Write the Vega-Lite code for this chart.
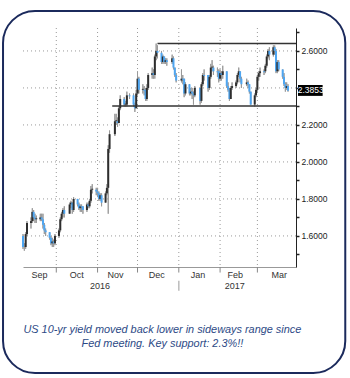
{
  "$schema": "https://vega.github.io/schema/vega-lite/v6.json",
  "width": 273,
  "height": 239,
  "padding": {"left": 2, "top": 9, "right": 2, "bottom": 2},
  "background": "white",
  "config": {
    "view": {"stroke": null},
    "font": "Liberation Sans",
    "axisX": {"labelFont": "Liberation Sans Narrow, Liberation Sans", "labelFontSize": 9, "labelColor": "#333", "ticks": false, "grid": false, "domainColor": "#999", "labelPadding": 3},
    "axisY": {"labelFont": "Liberation Sans Narrow, Liberation Sans", "labelFontSize": 8.5, "labelColor": "#222", "domainColor": "#222", "tickColor": "#222", "tickSize": 3, "tickWidth": 1.5, "labelPadding": 2, "grid": false, "labelOverlap": false}
  },
  "datasets": {
    "ohlc": [
      {"d":"2016-09-06","o":1.60,"h":1.61,"l":1.53,"c":1.54},
      {"d":"2016-09-07","o":1.54,"h":1.56,"l":1.52,"c":1.54},
      {"d":"2016-09-08","o":1.54,"h":1.62,"l":1.53,"c":1.61},
      {"d":"2016-09-09","o":1.61,"h":1.68,"l":1.60,"c":1.67},
      {"d":"2016-09-12","o":1.67,"h":1.70,"l":1.64,"c":1.68},
      {"d":"2016-09-13","o":1.68,"h":1.75,"l":1.67,"c":1.73},
      {"d":"2016-09-14","o":1.73,"h":1.74,"l":1.68,"c":1.70},
      {"d":"2016-09-15","o":1.70,"h":1.72,"l":1.67,"c":1.69},
      {"d":"2016-09-16","o":1.69,"h":1.71,"l":1.67,"c":1.695},
      {"d":"2016-09-19","o":1.69,"h":1.72,"l":1.68,"c":1.70},
      {"d":"2016-09-20","o":1.70,"h":1.72,"l":1.68,"c":1.69},
      {"d":"2016-09-21","o":1.69,"h":1.72,"l":1.64,"c":1.66},
      {"d":"2016-09-22","o":1.66,"h":1.67,"l":1.61,"c":1.63},
      {"d":"2016-09-23","o":1.63,"h":1.64,"l":1.60,"c":1.62},
      {"d":"2016-09-26","o":1.62,"h":1.62,"l":1.58,"c":1.59},
      {"d":"2016-09-27","o":1.59,"h":1.60,"l":1.55,"c":1.56},
      {"d":"2016-09-28","o":1.56,"h":1.59,"l":1.54,"c":1.57},
      {"d":"2016-09-29","o":1.57,"h":1.58,"l":1.54,"c":1.56},
      {"d":"2016-09-30","o":1.56,"h":1.61,"l":1.55,"c":1.60},
      {"d":"2016-10-03","o":1.60,"h":1.64,"l":1.59,"c":1.63},
      {"d":"2016-10-04","o":1.63,"h":1.70,"l":1.62,"c":1.69},
      {"d":"2016-10-05","o":1.69,"h":1.73,"l":1.68,"c":1.72},
      {"d":"2016-10-06","o":1.72,"h":1.75,"l":1.70,"c":1.74},
      {"d":"2016-10-07","o":1.74,"h":1.76,"l":1.70,"c":1.72},
      {"d":"2016-10-11","o":1.72,"h":1.78,"l":1.72,"c":1.77},
      {"d":"2016-10-12","o":1.77,"h":1.79,"l":1.75,"c":1.78},
      {"d":"2016-10-13","o":1.78,"h":1.78,"l":1.72,"c":1.74},
      {"d":"2016-10-14","o":1.74,"h":1.81,"l":1.73,"c":1.80},
      {"d":"2016-10-17","o":1.80,"h":1.80,"l":1.76,"c":1.77},
      {"d":"2016-10-18","o":1.77,"h":1.78,"l":1.74,"c":1.75},
      {"d":"2016-10-19","o":1.75,"h":1.77,"l":1.73,"c":1.76},
      {"d":"2016-10-20","o":1.76,"h":1.77,"l":1.73,"c":1.755},
      {"d":"2016-10-21","o":1.76,"h":1.76,"l":1.72,"c":1.74},
      {"d":"2016-10-24","o":1.74,"h":1.78,"l":1.73,"c":1.77},
      {"d":"2016-10-25","o":1.77,"h":1.78,"l":1.75,"c":1.76},
      {"d":"2016-10-26","o":1.76,"h":1.80,"l":1.75,"c":1.79},
      {"d":"2016-10-27","o":1.79,"h":1.87,"l":1.78,"c":1.85},
      {"d":"2016-10-28","o":1.85,"h":1.88,"l":1.83,"c":1.855},
      {"d":"2016-10-31","o":1.85,"h":1.86,"l":1.82,"c":1.84},
      {"d":"2016-11-01","o":1.84,"h":1.86,"l":1.81,"c":1.83},
      {"d":"2016-11-02","o":1.83,"h":1.84,"l":1.79,"c":1.80},
      {"d":"2016-11-03","o":1.80,"h":1.83,"l":1.79,"c":1.82},
      {"d":"2016-11-04","o":1.82,"h":1.83,"l":1.76,"c":1.78},
      {"d":"2016-11-07","o":1.78,"h":1.84,"l":1.78,"c":1.83},
      {"d":"2016-11-08","o":1.83,"h":1.88,"l":1.82,"c":1.86},
      {"d":"2016-11-09","o":1.86,"h":2.09,"l":1.72,"c":2.07},
      {"d":"2016-11-10","o":2.07,"h":2.17,"l":2.05,"c":2.15},
      {"d":"2016-11-14","o":2.15,"h":2.26,"l":2.14,"c":2.22},
      {"d":"2016-11-15","o":2.22,"h":2.26,"l":2.20,"c":2.225},
      {"d":"2016-11-16","o":2.22,"h":2.24,"l":2.19,"c":2.21},
      {"d":"2016-11-17","o":2.21,"h":2.30,"l":2.21,"c":2.29},
      {"d":"2016-11-18","o":2.29,"h":2.36,"l":2.28,"c":2.34},
      {"d":"2016-11-21","o":2.34,"h":2.35,"l":2.30,"c":2.31},
      {"d":"2016-11-22","o":2.31,"h":2.33,"l":2.30,"c":2.315},
      {"d":"2016-11-23","o":2.31,"h":2.38,"l":2.30,"c":2.36},
      {"d":"2016-11-25","o":2.36,"h":2.37,"l":2.34,"c":2.355},
      {"d":"2016-11-28","o":2.36,"h":2.37,"l":2.30,"c":2.31},
      {"d":"2016-11-29","o":2.31,"h":2.32,"l":2.27,"c":2.29},
      {"d":"2016-11-30","o":2.29,"h":2.39,"l":2.29,"c":2.37},
      {"d":"2016-12-01","o":2.37,"h":2.49,"l":2.36,"c":2.45},
      {"d":"2016-12-02","o":2.45,"h":2.46,"l":2.37,"c":2.39},
      {"d":"2016-12-05","o":2.39,"h":2.42,"l":2.37,"c":2.395},
      {"d":"2016-12-06","o":2.39,"h":2.41,"l":2.36,"c":2.385},
      {"d":"2016-12-07","o":2.39,"h":2.40,"l":2.33,"c":2.34},
      {"d":"2016-12-08","o":2.34,"h":2.42,"l":2.33,"c":2.40},
      {"d":"2016-12-09","o":2.40,"h":2.48,"l":2.39,"c":2.47},
      {"d":"2016-12-12","o":2.47,"h":2.51,"l":2.45,"c":2.48},
      {"d":"2016-12-13","o":2.48,"h":2.50,"l":2.45,"c":2.47},
      {"d":"2016-12-14","o":2.47,"h":2.58,"l":2.45,"c":2.57},
      {"d":"2016-12-15","o":2.57,"h":2.64,"l":2.55,"c":2.60},
      {"d":"2016-12-16","o":2.60,"h":2.63,"l":2.56,"c":2.59},
      {"d":"2016-12-19","o":2.59,"h":2.60,"l":2.53,"c":2.54},
      {"d":"2016-12-20","o":2.54,"h":2.58,"l":2.53,"c":2.57},
      {"d":"2016-12-21","o":2.57,"h":2.57,"l":2.53,"c":2.54},
      {"d":"2016-12-22","o":2.54,"h":2.56,"l":2.53,"c":2.55},
      {"d":"2016-12-23","o":2.55,"h":2.56,"l":2.52,"c":2.54},
      {"d":"2016-12-27","o":2.54,"h":2.58,"l":2.53,"c":2.56},
      {"d":"2016-12-28","o":2.56,"h":2.57,"l":2.50,"c":2.51},
      {"d":"2016-12-29","o":2.51,"h":2.51,"l":2.46,"c":2.47},
      {"d":"2016-12-30","o":2.47,"h":2.48,"l":2.43,"c":2.44},
      {"d":"2017-01-03","o":2.44,"h":2.50,"l":2.43,"c":2.45},
      {"d":"2017-01-04","o":2.45,"h":2.47,"l":2.42,"c":2.445},
      {"d":"2017-01-05","o":2.45,"h":2.45,"l":2.35,"c":2.37},
      {"d":"2017-01-06","o":2.37,"h":2.43,"l":2.36,"c":2.42},
      {"d":"2017-01-09","o":2.42,"h":2.42,"l":2.36,"c":2.37},
      {"d":"2017-01-10","o":2.37,"h":2.40,"l":2.36,"c":2.38},
      {"d":"2017-01-11","o":2.38,"h":2.40,"l":2.34,"c":2.37},
      {"d":"2017-01-12","o":2.37,"h":2.38,"l":2.31,"c":2.36},
      {"d":"2017-01-13","o":2.36,"h":2.41,"l":2.35,"c":2.40},
      {"d":"2017-01-17","o":2.40,"h":2.40,"l":2.31,"c":2.33},
      {"d":"2017-01-18","o":2.33,"h":2.43,"l":2.32,"c":2.42},
      {"d":"2017-01-19","o":2.42,"h":2.48,"l":2.41,"c":2.47},
      {"d":"2017-01-20","o":2.47,"h":2.50,"l":2.44,"c":2.465},
      {"d":"2017-01-23","o":2.47,"h":2.47,"l":2.38,"c":2.40},
      {"d":"2017-01-24","o":2.40,"h":2.47,"l":2.39,"c":2.46},
      {"d":"2017-01-25","o":2.46,"h":2.53,"l":2.45,"c":2.51},
      {"d":"2017-01-26","o":2.51,"h":2.55,"l":2.49,"c":2.515},
      {"d":"2017-01-27","o":2.51,"h":2.52,"l":2.47,"c":2.49},
      {"d":"2017-01-30","o":2.49,"h":2.51,"l":2.46,"c":2.485},
      {"d":"2017-01-31","o":2.49,"h":2.50,"l":2.43,"c":2.45},
      {"d":"2017-02-01","o":2.45,"h":2.50,"l":2.44,"c":2.48},
      {"d":"2017-02-02","o":2.48,"h":2.49,"l":2.44,"c":2.47},
      {"d":"2017-02-03","o":2.47,"h":2.52,"l":2.45,"c":2.49},
      {"d":"2017-02-06","o":2.49,"h":2.49,"l":2.40,"c":2.41},
      {"d":"2017-02-07","o":2.41,"h":2.43,"l":2.38,"c":2.39},
      {"d":"2017-02-08","o":2.39,"h":2.40,"l":2.33,"c":2.34},
      {"d":"2017-02-09","o":2.34,"h":2.41,"l":2.34,"c":2.40},
      {"d":"2017-02-10","o":2.40,"h":2.43,"l":2.39,"c":2.41},
      {"d":"2017-02-13","o":2.41,"h":2.44,"l":2.40,"c":2.43},
      {"d":"2017-02-14","o":2.43,"h":2.48,"l":2.42,"c":2.47},
      {"d":"2017-02-15","o":2.47,"h":2.51,"l":2.46,"c":2.49},
      {"d":"2017-02-16","o":2.49,"h":2.49,"l":2.43,"c":2.45},
      {"d":"2017-02-17","o":2.45,"h":2.46,"l":2.40,"c":2.42},
      {"d":"2017-02-21","o":2.42,"h":2.45,"l":2.41,"c":2.43},
      {"d":"2017-02-22","o":2.43,"h":2.44,"l":2.40,"c":2.42},
      {"d":"2017-02-23","o":2.42,"h":2.42,"l":2.37,"c":2.38},
      {"d":"2017-02-24","o":2.38,"h":2.38,"l":2.31,"c":2.31},
      {"d":"2017-02-27","o":2.31,"h":2.37,"l":2.30,"c":2.36},
      {"d":"2017-02-28","o":2.36,"h":2.40,"l":2.35,"c":2.39},
      {"d":"2017-03-01","o":2.39,"h":2.47,"l":2.38,"c":2.46},
      {"d":"2017-03-02","o":2.46,"h":2.49,"l":2.44,"c":2.48},
      {"d":"2017-03-03","o":2.48,"h":2.51,"l":2.46,"c":2.49},
      {"d":"2017-03-06","o":2.49,"h":2.50,"l":2.47,"c":2.485},
      {"d":"2017-03-07","o":2.49,"h":2.53,"l":2.48,"c":2.52},
      {"d":"2017-03-08","o":2.52,"h":2.58,"l":2.51,"c":2.57},
      {"d":"2017-03-09","o":2.57,"h":2.61,"l":2.56,"c":2.60},
      {"d":"2017-03-10","o":2.60,"h":2.62,"l":2.55,"c":2.58},
      {"d":"2017-03-13","o":2.58,"h":2.63,"l":2.57,"c":2.62},
      {"d":"2017-03-14","o":2.62,"h":2.63,"l":2.58,"c":2.60},
      {"d":"2017-03-15","o":2.60,"h":2.61,"l":2.48,"c":2.49},
      {"d":"2017-03-16","o":2.49,"h":2.55,"l":2.48,"c":2.54},
      {"d":"2017-03-17","o":2.54,"h":2.55,"l":2.49,"c":2.50},
      {"d":"2017-03-20","o":2.50,"h":2.50,"l":2.45,"c":2.46},
      {"d":"2017-03-21","o":2.46,"h":2.48,"l":2.41,"c":2.42},
      {"d":"2017-03-22","o":2.42,"h":2.43,"l":2.38,"c":2.40},
      {"d":"2017-03-23","o":2.40,"h":2.43,"l":2.39,"c":2.41},
      {"d":"2017-03-24","o":2.41,"h":2.42,"l":2.38,"c":2.3853}
    ],
    "months": [
      {"m":"2016-10-01"},{"m":"2016-11-01"},{"m":"2016-12-01"},
      {"m":"2017-01-01"},{"m":"2017-02-01"},{"m":"2017-03-01"}
    ],
    "hgrid": [{"v":1.6},{"v":1.8},{"v":2.0},{"v":2.2},{"v":2.4},{"v":2.6}],
    "levels": [
      {"start":"2016-11-12","end":"2017-03-30","level":2.303},
      {"start":"2016-12-16","end":"2017-03-30","level":2.64}
    ],
    "years": [
      {"yr":"2016","d":"2016-11-02T18:00:00"},
      {"yr":"2017","d":"2017-02-12T00:00:00"}
    ],
    "last": [{"label":"2.3853"}]
  },
  "layer": [
    {
      "data": {"name": "ohlc"},
      "mark": {"type": "rule", "color": "#9a9a9a", "strokeWidth": 1},
      "encoding": {
        "x": {
          "field": "d", "type": "temporal", "title": null,
          "scale": {"domain": [{"year": 2016, "month": 9, "date": 6}, {"year": 2017, "month": 3, "date": 30}], "padding": 0},
          "axis": {
            "title": null,
            "tickCount": 20,
            "values": [
              {"year": 2016, "month": 9, "date": 18},
              {"year": 2016, "month": 10, "date": 16},
              {"year": 2016, "month": 11, "date": 14},
              {"year": 2016, "month": 12, "date": 15},
              {"year": 2017, "month": 1, "date": 15},
              {"year": 2017, "month": 2, "date": 12},
              {"year": 2017, "month": 3, "date": 17}
            ],
            "format": "%b"
          }
        },
        "y": {
          "field": "l", "type": "quantitative", "title": null,
          "scale": {"domain": [1.432, 2.724], "nice": false, "zero": false, "padding": 0},
          "axis": {
            "title": null,
            "orient": "right",
            "tickCount": 30,
            "values": [1.5, 1.6, 1.7, 1.8, 1.9, 2.0, 2.1, 2.2, 2.3, 2.4, 2.5, 2.6, 2.7],
            "labelExpr": "(round(datum.value*10) % 2 == 0 && round(datum.value*10) != 24) ? format(datum.value, '.4f') : ''",
            "labelOverlap": false
          }
        },
        "y2": {"field": "h"}
      }
    },
    {
      "data": {"values": [{}]},
      "mark": {"type": "rect", "fill": "transparent", "stroke": "#1b2a5c", "strokeWidth": 2, "cornerRadius": 32},
      "encoding": {
        "x": {"datum": {"year": 2016, "month": 8, "date": 22}, "type": "temporal"},
        "x2": {"datum": {"year": 2017, "month": 5, "date": 6}},
        "y": {"datum": 2.816, "type": "quantitative"},
        "y2": {"datum": 0.859}
      }
    },
    {
      "data": {"name": "hgrid"},
      "mark": {"type": "rule", "color": "#9a9a9a", "strokeDash": [1, 3], "strokeWidth": 1},
      "encoding": {
        "x": {"datum": {"year": 2016, "month": 9, "date": 6}, "type": "temporal"},
        "x2": {"datum": {"year": 2017, "month": 3, "date": 30}},
        "y": {"field": "v", "type": "quantitative", "title": null}
      }
    },
    {
      "data": {"name": "months"},
      "mark": {"type": "rule", "color": "#9a9a9a", "strokeDash": [1, 3], "strokeWidth": 1},
      "encoding": {
        "x": {"field": "m", "type": "temporal", "title": null},
        "y": {"datum": 2.724, "type": "quantitative"},
        "y2": {"datum": 1.432}
      }
    },
    {
      "data": {"name": "months"},
      "mark": {"type": "rule", "color": "#888", "strokeWidth": 1},
      "encoding": {
        "x": {"field": "m", "type": "temporal", "title": null},
        "y": {"datum": 1.432, "type": "quantitative"},
        "y2": {"datum": 1.402}
      }
    },
    {
      "data": {"name": "ohlc"},
      "mark": {"type": "rule", "color": "#9a9a9a", "strokeWidth": 1},
      "encoding": {
        "x": {"field": "d", "type": "temporal", "title": null},
        "y": {"field": "l", "type": "quantitative", "title": null},
        "y2": {"field": "h"}
      }
    },
    {
      "data": {"name": "ohlc"},
      "mark": {"type": "bar", "size": 2},
      "encoding": {
        "x": {"field": "d", "type": "temporal", "title": null},
        "y": {"field": "o", "type": "quantitative", "title": null},
        "y2": {"field": "c"},
        "color": {"condition": {"test": "datum.c >= datum.o", "value": "#2e2e2e"}, "value": "#4ea6f2"}
      }
    },
    {
      "data": {"name": "levels"},
      "mark": {"type": "rule", "color": "#333", "strokeWidth": 1.5},
      "encoding": {
        "x": {"field": "start", "type": "temporal", "title": null},
        "x2": {"field": "end"},
        "y": {"field": "level", "type": "quantitative", "title": null}
      }
    },
    {
      "data": {"name": "last"},
      "mark": {"type": "rect", "fill": "#000"},
      "encoding": {
        "x": {"datum": {"year": 2017, "month": 3, "date": 31, "hours": 12}, "type": "temporal"},
        "x2": {"datum": {"year": 2017, "month": 4, "date": 19}},
        "y": {"datum": 2.416, "type": "quantitative"},
        "y2": {"datum": 2.357}
      }
    },
    {
      "data": {"name": "last"},
      "mark": {"type": "text", "color": "white", "font": "Liberation Sans Narrow, Liberation Sans", "fontSize": 8.5, "align": "center", "baseline": "middle"},
      "encoding": {
        "x": {"datum": {"year": 2017, "month": 4, "date": 10}, "type": "temporal"},
        "y": {"datum": 2.3865, "type": "quantitative"},
        "text": {"field": "label"}
      }
    },
    {
      "data": {"name": "years"},
      "mark": {"type": "text", "color": "#333", "font": "Liberation Sans Narrow, Liberation Sans", "fontSize": 9, "align": "center", "baseline": "middle"},
      "encoding": {
        "x": {"field": "d", "type": "temporal", "title": null},
        "y": {"datum": 1.33, "type": "quantitative"},
        "text": {"field": "yr"}
      }
    },
    {
      "data": {"values": [{}]},
      "mark": {"type": "rule", "color": "#bbb", "strokeWidth": 1.5},
      "encoding": {
        "x": {"datum": {"year": 2017, "month": 1, "date": 1}, "type": "temporal"},
        "y": {"datum": 1.357, "type": "quantitative"},
        "y2": {"datum": 1.303}
      }
    },
    {
      "data": {"values": [{}]},
      "mark": {
        "type": "text",
        "text": ["US 10-yr yield moved back lower in sideways range since", "Fed meeting. Key support: 2.3%!!"],
        "font": "Liberation Sans",
        "fontStyle": "italic",
        "fontSize": 10.9,
        "lineHeight": 14,
        "color": "#2d4a86",
        "align": "center",
        "baseline": "middle"
      },
      "encoding": {
        "x": {"datum": {"year": 2016, "month": 12, "date": 19, "hours": 16}, "type": "temporal"},
        "y": {"datum": 1.092, "type": "quantitative"}
      }
    }
  ]
}
